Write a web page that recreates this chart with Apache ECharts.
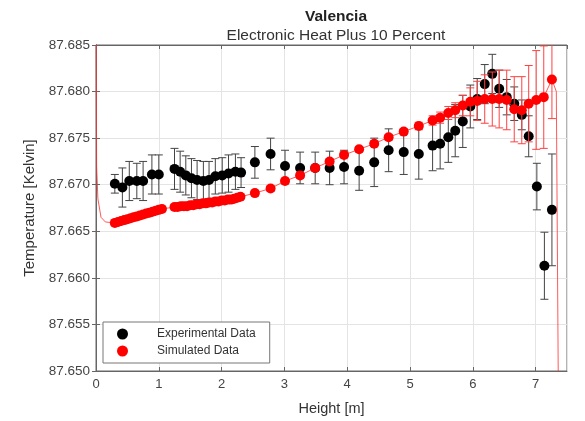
<!DOCTYPE html>
<html><head><meta charset="utf-8">
<script src="https://cdn.jsdelivr.net/npm/echarts@6/dist/echarts.min.js"></script>
<style>html,body{margin:0;padding:0;background:#fff}#c{width:585px;height:421px}</style>
</head><body><div id="c"></div>
<script>
// ---- Data ----
const xTicks = [0, 1, 2, 3, 4, 5, 6, 7];
const yTicks = [87.650, 87.655, 87.660, 87.665, 87.670, 87.675, 87.680, 87.685];

const expH = [0.30,0.42,0.53,0.65,0.75,0.89,1.00,1.25,1.34,1.43,1.52,1.61,1.71,1.80,1.90,2.01,2.11,2.22,2.31,2.53,2.78,3.01,3.25,3.49,3.72,3.95,4.19,4.43,4.66,4.90,5.14,5.36,5.48,5.61,5.72,5.84,5.96,6.07,6.19,6.31,6.42,6.54,6.66,6.78,6.89,7.02,7.14,7.26];
const expV = [87.6701,87.6697,87.6704,87.6704,87.6704,87.6711,87.6711,87.6717,87.6714,87.6710,87.6707,87.6705,87.6704,87.6705,87.6709,87.6710,87.6712,87.6714,87.6713,87.6724,87.6733,87.6720,87.6718,87.6718,87.6718,87.6719,87.6715,87.6724,87.6737,87.6735,87.6733,87.6742,87.6744,87.6751,87.6758,87.6768,87.6784,87.6792,87.6808,87.6819,87.6803,87.6794,87.6787,87.6775,87.6752,87.6698,87.6613,87.6673];
const expErr = [0.0010,0.0021,0.0021,0.0019,0.0021,0.0021,0.0021,0.0022,0.0022,0.0021,0.0021,0.0021,0.0021,0.0020,0.0019,0.0019,0.0020,0.0019,0.0016,0.0017,0.0017,0.0017,0.0017,0.0017,0.0018,0.0018,0.0021,0.0026,0.0023,0.0024,0.0027,0.0027,0.0027,0.0027,0.0028,0.0028,0.0023,0.0022,0.0021,0.0021,0.0020,0.0019,0.0018,0.0016,0.0022,0.0025,0.0036,0.0060];

const simH = [0.30,0.35,0.40,0.45,0.50,0.55,0.60,0.65,0.70,0.75,0.80,0.85,0.90,0.95,1.00,1.05,1.25,1.30,1.35,1.40,1.45,1.50,1.55,1.60,1.65,1.70,1.75,1.80,1.85,1.90,1.95,2.00,2.05,2.10,2.15,2.20,2.25,2.30,2.53,2.78,3.01,3.25,3.49,3.72,3.95,4.19,4.43,4.66,4.90,5.14,5.36,5.48,5.61,5.72,5.84,5.96,6.07,6.19,6.31,6.42,6.54,6.66,6.78,6.89,7.01,7.13,7.26];
const simV = [87.6659,87.6660,87.6661,87.6662,87.6663,87.6664,87.6665,87.6666,87.6667,87.6668,87.6669,87.6670,87.6671,87.6672,87.6673,87.6674,87.6676,87.6676,87.6677,87.6677,87.6677,87.6678,87.6678,87.6679,87.6679,87.6680,87.6680,87.6681,87.6681,87.6682,87.6682,87.6683,87.6683,87.6684,87.6684,87.6685,87.6686,87.6687,87.6691,87.6696,87.6704,87.6710,87.6718,87.6725,87.6732,87.6738,87.6744,87.6751,87.6757,87.6763,87.6769,87.6772,87.6777,87.6780,87.6785,87.6789,87.6790,87.6792,87.6792,87.6792,87.6791,87.6781,87.6780,87.6787,87.6791,87.6794,87.6813];
const simErr = [0.0003,0.0003,0.0003,0.0003,0.0003,0.0003,0.0003,0.0003,0.0003,0.0003,0.0003,0.0003,0.0003,0.0003,0.0003,0.0003,0.0003,0.0003,0.0003,0.0003,0.0003,0.0003,0.0003,0.0003,0.0003,0.0003,0.0003,0.0003,0.0003,0.0003,0.0003,0.0003,0.0003,0.0003,0.0003,0.0003,0.0003,0.0003,0.0003,0.0003,0.0003,0.0003,0.0003,0.0003,0.0003,0.0003,0.0003,0.0003,0.0003,0.0004,0.0005,0.0006,0.0007,0.0008,0.0011,0.0015,0.0021,0.0026,0.0029,0.0031,0.0032,0.0035,0.0036,0.0041,0.0053,0.0055,0.0042];

// simulated curve end artefacts (thin red line)
const simLineHeadH = [0.00, 0.01, 0.03, 0.08, 0.15];
const simLineHeadV = [87.6900, 87.6720, 87.6685, 87.6665, 87.6660];
const simLineTailH = [7.33, 7.37];
const simLineTailV = [87.6800, 87.6400];

// ---- Build ----
const expPts = expH.map((h, i) => [h, expV[i]]);
const simPts = simH.map((h, i) => [h, simV[i]]);
const expBars = expH.map((h, i) => [h, expV[i] - expErr[i], expV[i] + expErr[i]]);
const simBars = simH.map((h, i) => [h, simV[i] - simErr[i], simV[i] + simErr[i]]);
const simLine = simLineHeadH.map((h, i) => [h, simLineHeadV[i]])
  .concat(simPts)
  .concat(simLineTailH.map((h, i) => [h, simLineTailV[i]]));

function errRender(capHalf, color, width) {
  return function (params, api) {
    const x = api.value(0);
    const p1 = api.coord([x, api.value(1)]);
    const p2 = api.coord([x, api.value(2)]);
    const style = { stroke: color, lineWidth: width };
    return {
      type: 'group',
      children: [
        { type: 'line', shape: { x1: p1[0], y1: p1[1], x2: p2[0], y2: p2[1] }, style },
        { type: 'line', shape: { x1: p1[0] - capHalf, y1: p1[1], x2: p1[0] + capHalf, y2: p1[1] }, style },
        { type: 'line', shape: { x1: p2[0] - capHalf, y1: p2[1], x2: p2[0] + capHalf, y2: p2[1] }, style }
      ]
    };
  };
}

const FONT = 'Liberation Sans, Arial, sans-serif';
const axisCol = '#666';
const chart = echarts.init(document.getElementById('c'), null, { renderer: 'canvas' });
const xBase = { type: 'value', min: xTicks[0], max: 7.5, interval: 1 };
const yBase = { type: 'value', min: yTicks[0], max: yTicks[yTicks.length - 1], interval: 0.005 };

chart.setOption({
  animation: false,
  backgroundColor: '#fff',
  title: [
    { text: 'Valencia', left: 331, top: 4, textAlign: 'center',
      textStyle: { fontFamily: FONT, fontSize: 15.5, fontWeight: 'bold', color: '#222' } },
    { text: 'Electronic Heat Plus 10 Percent', left: 331, top: 23, textAlign: 'center',
      textStyle: { fontFamily: FONT, fontSize: 15.5, fontWeight: 'normal', color: '#333' } }
  ],
  grid: { left: 96, right: 18, top: 45, bottom: 50, show: true, borderColor: axisCol, borderWidth: 1 },
  legend: {
    left: 103, top: 322, orient: 'vertical',
    data: ['Experimental Data', 'Simulated Data'],
    icon: 'circle', itemWidth: 11, itemHeight: 11, itemGap: 5,
    padding: [6, 14, 6, 14],
    borderColor: '#777', borderWidth: 1, backgroundColor: '#fff',
    textStyle: { fontFamily: FONT, fontSize: 12, color: '#333', padding: [0, 0, 0, 24] }
  },
  xAxis: [
    Object.assign({}, xBase, {
      position: 'bottom',
      name: 'Height [m]', nameLocation: 'middle', nameGap: 30,
      nameTextStyle: { fontFamily: FONT, fontSize: 14.5, color: '#333' },
      axisLine: { show: true, lineStyle: { color: axisCol } },
      axisTick: { show: true, inside: true, length: 4, lineStyle: { color: axisCol } },
      axisLabel: { showMaxLabel: false, margin: 7, fontFamily: FONT, fontSize: 13, color: '#444',
        formatter: v => String(v) },
      splitLine: { show: true, lineStyle: { color: '#e4e4e4', width: 1 } }
    }),
    Object.assign({}, xBase, {
      position: 'top',
      axisLine: { show: true, lineStyle: { color: axisCol } },
      axisTick: { show: true, inside: true, length: 4, lineStyle: { color: axisCol } },
      axisLabel: { show: false }, splitLine: { show: false }
    })
  ],
  yAxis: [
    Object.assign({}, yBase, {
      position: 'left',
      name: 'Temperature [Kelvin]', nameLocation: 'middle', nameGap: 54, nameRotate: 90,
      nameTextStyle: { fontFamily: FONT, fontSize: 15, color: '#333' },
      axisLine: { show: true, lineStyle: { color: axisCol } },
      axisTick: { show: true, inside: true, length: 4, lineStyle: { color: axisCol } },
      axisLabel: { margin: 6, fontFamily: FONT, fontSize: 13.5, color: '#444', formatter: v => v.toFixed(3) },
      splitLine: { show: true, lineStyle: { color: '#e4e4e4', width: 1 } }
    }),
    Object.assign({}, yBase, {
      position: 'right',
      axisLine: { show: true, lineStyle: { color: axisCol } },
      axisTick: { show: true, inside: true, length: 4, lineStyle: { color: axisCol } },
      axisLabel: { show: false }, splitLine: { show: false }
    })
  ],
  series: [
    { name: 'expBars', type: 'custom', clip: true, xAxisIndex: 0, yAxisIndex: 0,
      renderItem: errRender(4, '#444', 1), data: expBars, encode: { x: 0, y: [1, 2] }, z: 2 },
    { name: 'Experimental Data', type: 'scatter', data: expPts, symbol: 'circle', symbolSize: 10,
      itemStyle: { color: '#000', opacity: 1 }, z: 3 },
    { name: 'simLine', type: 'line', data: simLine, showSymbol: false, symbol: 'none', clip: true,
      lineStyle: { color: '#ff3030', width: 1, opacity: 0.8 }, z: 4, silent: true },
    { name: 'simBars', type: 'custom', clip: true,
      renderItem: errRender(4, '#ff4040', 1), data: simBars, encode: { x: 0, y: [1, 2] }, z: 4 },
    { name: 'Simulated Data', type: 'scatter', data: simPts, symbol: 'circle', symbolSize: 10,
      itemStyle: { color: '#ff0000', opacity: 1 }, z: 5 }
  ]
});
</script>
</body></html>
